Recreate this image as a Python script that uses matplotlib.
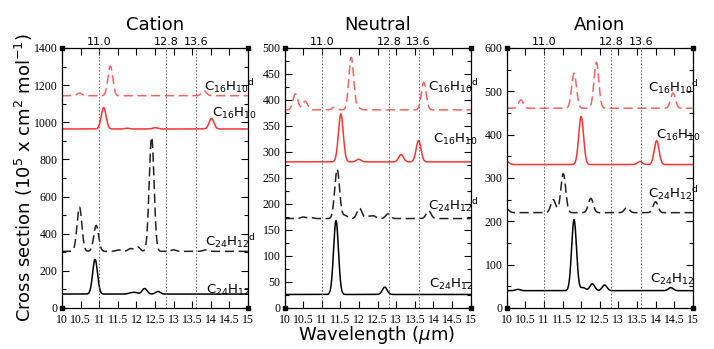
import numpy as np
import matplotlib
matplotlib.use("Agg")
import matplotlib.pyplot as plt
from matplotlib.ticker import MultipleLocator, FuncFormatter

# peak lists: (centre in um, height above baseline)
panel_titles = ["Cation", "Neutral", "Anion"]
molecule_labels = [r"C$_{24}$H$_{12}$", r"C$_{24}$H$_{12}$$^{\rm d}$",
                   r"C$_{16}$H$_{10}$", r"C$_{16}$H$_{10}$$^{\rm d}$"]
guide_lines = [11.0, 12.8, 13.6]
guide_labels = ["11.0", "12.8", "13.6"]

cation_base = [75, 305, 964, 1143]
cation_c24h12 = [(10.89, 187), (11.85, 6), (11.97, 8), (12.22, 30), (12.58, 14)]
cation_c24h12d = [(10.47, 238), (10.92, 140), (11.52, 8), (11.84, 15), (12.03, 25),
                  (12.41, 615), (13.0, 8), (13.86, 8)]
cation_c16h10 = [(11.12, 115), (11.75, 4), (12.51, 7), (14.02, 57)]
cation_c16h10d = [(10.47, 14), (11.30, 160), (13.82, 27)]

neutral_base = [26, 172, 281, 381]
neutral_c24h12 = [(11.38, 142), (12.69, 14)]
neutral_c24h12d = [(10.5, 3), (10.7, 2), (11.41, 95), (11.62, 6), (12.01, 20),
                   (12.25, 4), (12.39, 5), (12.78, 9), (13.87, 15)]
neutral_c16h10 = [(11.51, 92), (11.99, 5), (13.13, 14), (13.6, 41)]
neutral_c16h10d = [(10.29, 31), (10.55, 17), (11.34, 5), (11.79, 101), (11.97, 4), (13.74, 53)]

anion_base = [40, 220, 331, 461]
anion_c24h12 = [(10.3, 3), (11.81, 164), (12.05, 7), (12.30, 16), (12.63, 13), (14.41, 7)]
anion_c24h12d = [(10.0, 8), (11.25, 30), (11.52, 90), (12.26, 33), (13.23, 12), (14.0, 25)]
anion_c16h10 = [(10.0, 7), (12.0, 111), (13.58, 7), (14.03, 55)]
anion_c16h10d = [(10.38, 19), (11.81, 81), (12.41, 106), (14.47, 35)]

panels = [
    (cation_base, [cation_c24h12, cation_c24h12d, cation_c16h10, cation_c16h10d]),
    (neutral_base, [neutral_c24h12, neutral_c24h12d, neutral_c16h10, neutral_c16h10d]),
    (anion_base, [anion_c24h12, anion_c24h12d, anion_c16h10, anion_c16h10d]),
]
y_limits = [1400, 500, 600]
y_major = [200, 50, 100]
y_minor = [100, 25, 50]
label_pos = [
    [(13.88, 93), (13.84, 362), (14.04, 1046), (13.83, 1193)],
    [(13.87, 46), (13.84, 198), (13.98, 324), (13.84, 427)],
    [(13.85, 66), (13.81, 265), (14.0, 399), (13.81, 510)],
]

styles = [
    dict(color="black", ls="-", lw=1.1),
    dict(color="#222222", ls=(0, (6, 3)), lw=1.1),
    dict(color="#ff3333", ls="-", lw=1.1),
    dict(color="#ff6060", ls=(0, (6, 3)), lw=1.1),
]

SIGMA = 0.065
wl = np.linspace(10, 15, 1500)


def spectrum(base, peaks):
    y = np.full_like(wl, base, dtype=float)
    for c, h in peaks:
        y += h * np.exp(-0.5 * ((wl - c) / SIGMA) ** 2)
    return y


fig = plt.figure(figsize=(7.14, 3.49), dpi=100)
lefts = [0.0868, 0.3987, 0.7097]
serif = "Liberation Serif"

for i, (base, curves) in enumerate(panels):
    ax = fig.add_axes([lefts[i], 0.1175, 0.2605, 0.745])
    for b, pk, st in zip(base, curves, styles):
        ax.plot(wl, spectrum(b, pk), **st)
    for g in guide_lines:
        ax.axvline(g, color="#555555", lw=0.6, ls=(0, (2, 2)))
    for lab, (lx, ly) in zip(molecule_labels, label_pos[i]):
        ax.text(lx, ly, lab, fontsize=9.5, va="center", ha="left")

    ax.set_xlim(10, 15)
    ax.set_ylim(0, y_limits[i])
    ax.xaxis.set_major_locator(MultipleLocator(0.5))
    ax.xaxis.set_major_formatter(FuncFormatter(lambda v, p: f"{v:g}"))
    ax.yaxis.set_major_locator(MultipleLocator(y_major[i]))
    ax.yaxis.set_minor_locator(MultipleLocator(y_minor[i]))
    ax.tick_params(which="both", direction="in", top=True, right=True,
                   labelsize=8.5)
    ax.tick_params(axis="x", pad=4)
    ax.tick_params(axis="y", pad=3)
    ax.tick_params(which="major", length=5, width=0.8)
    ax.tick_params(which="minor", length=3, width=0.8)
    for t in ax.get_xticklabels() + ax.get_yticklabels():
        t.set_fontfamily(serif)
    for sp in ax.spines.values():
        sp.set_linewidth(0.9)
    ax.plot([0, 1, 0, 1], [0, 0, 1, 1], "s", ms=3, color="black",
            transform=ax.transAxes, clip_on=False)

    top = ax.secondary_xaxis("top")
    top.set_xticks(guide_lines, guide_labels)
    top.tick_params(length=0, labelsize=8, pad=1)
    top.spines["top"].set_visible(False)

    ax.set_title(panel_titles[i], fontsize=13, pad=13)

fig.text(0.034, 0.49, r"Cross section (10$^5$ x cm$^2$ mol$^{-1}$)",
         rotation=90, ha="center", va="center", fontsize=13)
fig.text(0.528, 0.04, r"Wavelength ($\mu$m)", ha="center", va="center", fontsize=13)

fig.savefig("out.png", dpi=100)
